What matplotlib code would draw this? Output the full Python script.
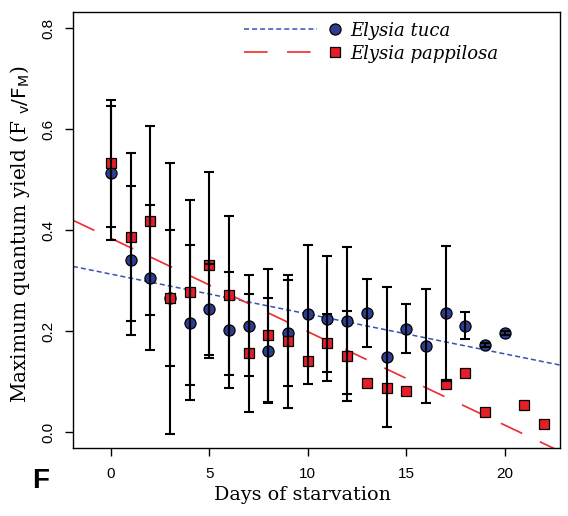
import numpy as np
import matplotlib
matplotlib.use("Agg")
import matplotlib.pyplot as plt
from matplotlib.lines import Line2D
from matplotlib.legend_handler import HandlerBase

plt.rcParams['lines.scale_dashes'] = False
plt.rcParams['mathtext.fontset'] = 'dejavusans'

# ---------------- data ----------------
tuca_days = [0, 1, 2, 3, 4, 5, 6, 7, 8, 9, 10, 11, 12, 13, 14, 15, 16, 17, 18, 19, 20]
tuca_mean = [0.513, 0.340, 0.306, 0.265, 0.217, 0.243, 0.202, 0.211, 0.161, 0.197, 0.233,
             0.225, 0.221, 0.236, 0.149, 0.205, 0.170, 0.235, 0.211, 0.172, 0.197]
tuca_err = [0.132, 0.148, 0.143, 0.268, 0.153, 0.090, 0.115, 0.100, 0.104, 0.105, 0.137,
            0.124, 0.146, 0.067, 0.138, 0.048, 0.113, 0.134, 0.026, 0.004, 0.004]

papp_days = [0, 1, 2, 3, 4, 5, 6, 7, 8, 9, 10, 11, 12, 13, 14, 15, 17, 18, 19, 21, 22]
papp_mean = [0.532, 0.386, 0.419, 0.265, 0.277, 0.331, 0.271, 0.157, 0.192, 0.180, 0.140,
             0.177, 0.151, 0.097, 0.088, 0.082, 0.096, 0.118, 0.039, 0.053, 0.016]
papp_err = [0.126, 0.166, 0.188, 0.135, 0.183, 0.185, 0.157, 0.117, 0.132, 0.132, np.nan,
            0.057, 0.089, np.nan, np.nan, np.nan, np.nan, np.nan, np.nan, np.nan, np.nan]

# linear trends (intercept, slope per day)
tuca_trend = (0.313, -0.0079)
papp_trend = (0.384, -0.0185)

x_ticks = [0, 5, 10, 15, 20]
y_ticks = [0.0, 0.2, 0.4, 0.6, 0.8]

labels = ["Elysia tuca", "Elysia pappilosa"]

# ---------------- style ----------------
blue_fill = "#2C3D92"
red_fill = "#E61E27"
blue_line = "#3A4FB8"
red_line = "#F02A2F"

fig = plt.figure(figsize=(5.68, 5.16), dpi=100)
ax = fig.add_axes([73/568, 1 - 448.3/516, 487/568, 436.3/516])
ax.set_xlim(-1.92, 22.81)
ax.set_ylim(-0.032, 0.832)

xl = np.array(ax.get_xlim())
ax.plot(xl, tuca_trend[0] + tuca_trend[1]*xl, color=blue_line, lw=1.1,
        dashes=(3.6, 2.2), zorder=2)
ax.plot(xl, papp_trend[0] + papp_trend[1]*xl, color=red_line, lw=1.2,
        dashes=(17, 14), zorder=2)

# points
ax.plot(tuca_days, tuca_mean, 'o', ms=8, mfc=blue_fill, mec='black', mew=0.9, zorder=3)
ax.plot(papp_days, papp_mean, 's', ms=7.6, mfc=red_fill, mec='black', mew=0.9, zorder=4)

# error bars on top
for d, m, e in [(tuca_days, tuca_mean, tuca_err), (papp_days, papp_mean, papp_err)]:
    d = np.array(d, float); m = np.array(m, float); e = np.array(e, float)
    ok = np.isfinite(e)
    ax.errorbar(d[ok], m[ok], yerr=e[ok], fmt='none', ecolor='black', elinewidth=1.5,
                capsize=3.8, capthick=1.5, zorder=5)

ax.set_xticks(x_ticks)
ax.set_yticks(y_ticks)
ax.set_yticklabels([f"{v:.1f}" for v in y_ticks])
for s in ax.spines.values():
    s.set_linewidth(1.0)
ax.tick_params(axis='both', direction='out', length=5.5, width=1.0, labelsize=11)
ax.tick_params(axis='x', pad=8)
ax.tick_params(axis='y', pad=7, labelrotation=90)
for t in ax.get_yticklabels():
    t.set_fontfamily('Liberation Sans')
    t.set_va('center')
for t in ax.get_xticklabels():
    t.set_fontfamily('Liberation Sans')

ax.set_xlabel("Days of starvation", family='DejaVu Serif', fontsize=13.8)
ax.xaxis.set_label_coords(0.472, -0.107)
ax.xaxis.label.set_va('center')
ax.set_ylabel(r"Maximum quantum yield (F $\mathsf{_v/F_M}$)", family='DejaVu Serif',
              fontsize=14.5)
ax.yaxis.set_label_coords(-0.084, 0.49)


class LineThenMarker(HandlerBase):
    def create_artists(self, legend, orig_handle, xdescent, ydescent, width, height,
                       fontsize, trans):
        lh, mh = orig_handle
        y = height / 2 - ydescent
        l = Line2D([-xdescent, -xdescent + width * 0.75], [y, y])
        l.update_from(lh)
        l.set_transform(trans)
        m = Line2D([-xdescent + width * 0.94], [y], linestyle='none')
        m.update_from(mh)
        m.set_linestyle('none')
        m.set_transform(trans)
        return [l, m]


h1 = (Line2D([], [], color=blue_line, lw=1.1, dashes=(3.6, 2.2)),
      Line2D([], [], marker='o', ms=8, mfc=blue_fill, mec='black', mew=0.9, ls='none'))
h2 = (Line2D([], [], color=red_line, lw=1.2, dashes=(17, 14)),
      Line2D([], [], marker='s', ms=7.6, mfc=red_fill, mec='black', mew=0.9, ls='none'))
leg = ax.legend([h1, h2], labels, handler_map={tuple: LineThenMarker()},
                loc='upper left', bbox_to_anchor=(0.351, 0.978), frameon=False,
                prop={'family': 'DejaVu Serif', 'style': 'italic', 'size': 13},
                handlelength=5.37, handletextpad=0.5, borderpad=0, borderaxespad=0,
                labelspacing=0.28)

fig.text(41/568, 1 - 481/516, "F", family='Liberation Sans', weight='bold', fontsize=20,
         ha='center', va='center')

fig.savefig("out.png", dpi=100)
